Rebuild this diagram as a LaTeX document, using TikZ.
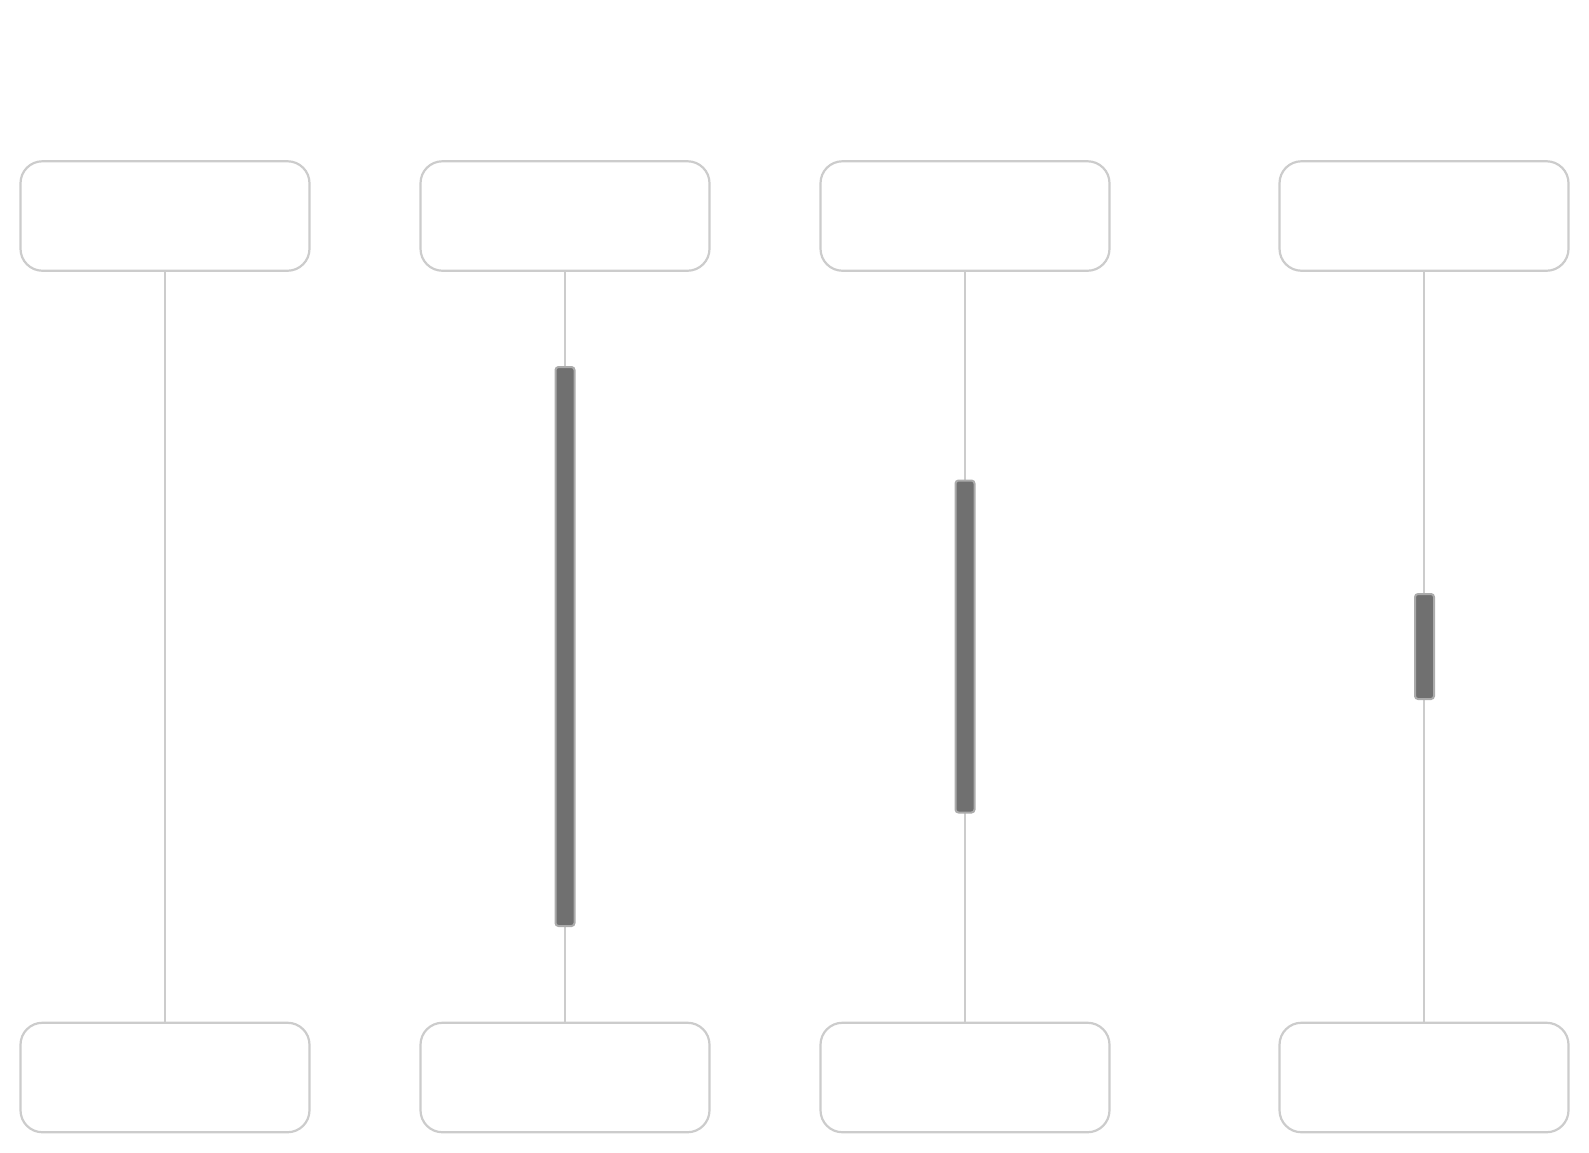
\documentclass[tikz,border=0pt]{standalone}
\begin{document}
\begin{tikzpicture}[x=1pt,y=-1pt,
  actor/.style={draw=black!20,line width=2.2pt,rounded corners=22pt,fill=white,minimum width=289pt,minimum height=109.5pt,inner sep=0pt},
  life/.style={draw=black!20,line width=2pt},
  actbar/.style={draw=black!33,fill=black!56,line width=2pt,rounded corners=3pt,minimum width=19pt,inner sep=0pt}]
\useasboundingbox (0,0) rectangle (1589,1152);
\foreach \n/\x in {a/165,b/565,c/965,d/1424}{
  \node[actor] (\n top) at (\x,216) {};
  \node[actor] (\n bot) at (\x,1077.5) {};
  \draw[life] (\n top.south) -- (\n bot.north);
}
\node[actbar,minimum height=559pt] (bbar) at (565,646.5) {};
\node[actbar,minimum height=332pt] (cbar) at (965,646.5) {};
\node[actbar,minimum height=105pt] (dbar) at (1424.5,646.5) {};
\end{tikzpicture}
\end{document}
